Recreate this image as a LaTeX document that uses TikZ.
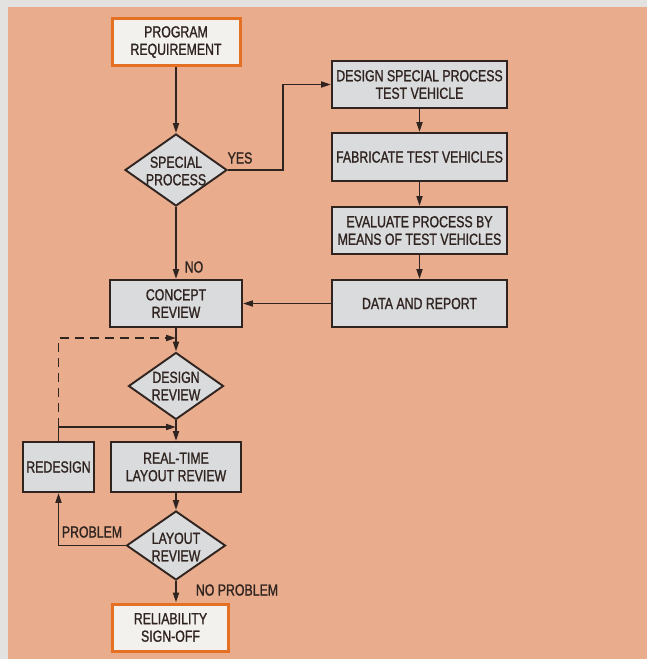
\documentclass[tikz,border=0pt]{standalone}
\usepackage{fontspec}
\setmainfont{Liberation Sans}[FakeStretch=0.77,FakeBold=1.2]
\usetikzlibrary{shapes.geometric,arrows.meta}
\definecolor{bgsalmon}{RGB}{233,173,141}
\definecolor{edgegray}{RGB}{228,226,224}
\definecolor{boxgray}{RGB}{218,219,221}
\definecolor{ink}{RGB}{48,36,32}
\definecolor{startorange}{RGB}{228,112,36}
\definecolor{startfill}{RGB}{243,241,238}
\begin{document}
\begin{tikzpicture}[x=1pt,y=-1pt,
  lettering/.style={font=\fontsize{16}{17.5}\selectfont, text=ink, align=center},
  procbox/.style={lettering, draw=ink, line width=1.9pt, fill=boxgray, inner sep=0pt},
  termbox/.style={lettering, draw=startorange, line width=3pt, fill=startfill, inner sep=0pt},
  decision/.style={diamond, draw=ink, line width=1.9pt, fill=boxgray, inner sep=0pt},
  dtext/.style={lettering, inner sep=0pt},
  lbl/.style={lettering, inner sep=0pt},
  conn/.style={draw=ink, line width=1.9pt, -{Triangle[length=10pt,width=6pt]}},
  dashconn/.style={conn, dash pattern=on 9pt off 6pt}
]
\useasboundingbox (0,0) rectangle (646,659);
\fill[edgegray] (-5,-5) rectangle (660,670);
\fill[bgsalmon] (8,7) rectangle (660,670);

% nodes
\node[termbox, minimum width=128pt, minimum height=47pt] (prog) at (176,42) {PROGRAM\\REQUIREMENT};
\node[decision, minimum width=102pt, minimum height=72pt] (spec) at (176,170) {};
\node[dtext] (spect) at (176,171) {SPECIAL\\PROCESS};
\node[procbox, minimum width=175pt, minimum height=47pt] (dsp) at (419.5,84.5) {DESIGN SPECIAL PROCESS\\TEST VEHICLE};
\node[procbox, minimum width=175pt, minimum height=48pt] (fab) at (419.5,157) {FABRICATE TEST VEHICLES};
\node[procbox, minimum width=175pt, minimum height=47pt] (eval) at (419.5,230.5) {EVALUATE PROCESS BY\\MEANS OF TEST VEHICLES};
\node[procbox, minimum width=175pt, minimum height=47pt] (data) at (419.5,303.5) {DATA AND REPORT};
\node[procbox, minimum width=132pt, minimum height=47pt] (concept) at (176,303.5) {CONCEPT\\REVIEW};
\node[decision, minimum width=95pt, minimum height=67pt] (drev) at (176,386) {};
\node[dtext] (drevt) at (176,386) {DESIGN\\REVIEW};
\node[procbox, minimum width=130pt, minimum height=50pt] (rt) at (176,467) {REAL-TIME\\LAYOUT REVIEW};
\node[procbox, minimum width=71pt, minimum height=50pt] (redesign) at (58.5,467) {REDESIGN};
\node[decision, minimum width=99pt, minimum height=69pt] (lay) at (176,545.5) {};
\node[dtext] (layt) at (176,547) {LAYOUT\\REVIEW};
\node[termbox, minimum width=116pt, minimum height=47pt] (rel) at (170.5,627.5) {RELIABILITY\\SIGN-OFF};

% labels
\node[lbl] (yes) at (240,158) {YES};
\node[lbl] (no) at (194,267) {NO};
\node[lbl] (prob) at (92,532) {PROBLEM};
\node[lbl] (noprob) at (237,590) {NO PROBLEM};

% junctions
\coordinate (jA) at (176,338);
\coordinate (jB) at (176,427);

% connectors
\draw[conn] (prog) -- (spec);
\draw[conn] (spec.east) -- ++(55,0) |- (dsp.west);
\draw[conn] (dsp) -- (fab);
\draw[conn] (fab) -- (eval);
\draw[conn] (eval) -- (data);
\draw[conn] (data) -- (concept);
\draw[conn] (spec) -- (concept);
\draw[conn] (concept) -- (drev);
\draw[conn] (drev) -- (rt);
\draw[conn] (rt) -- (lay);
\draw[conn] (lay.south) -- (lay.south |- rel.north);
\draw[conn] (lay.west) -| (redesign.south);
\draw[conn] (redesign.north) |- (jB);
\draw[dashconn] (redesign.north |- jB) |- (jA);
\end{tikzpicture}
\end{document}
